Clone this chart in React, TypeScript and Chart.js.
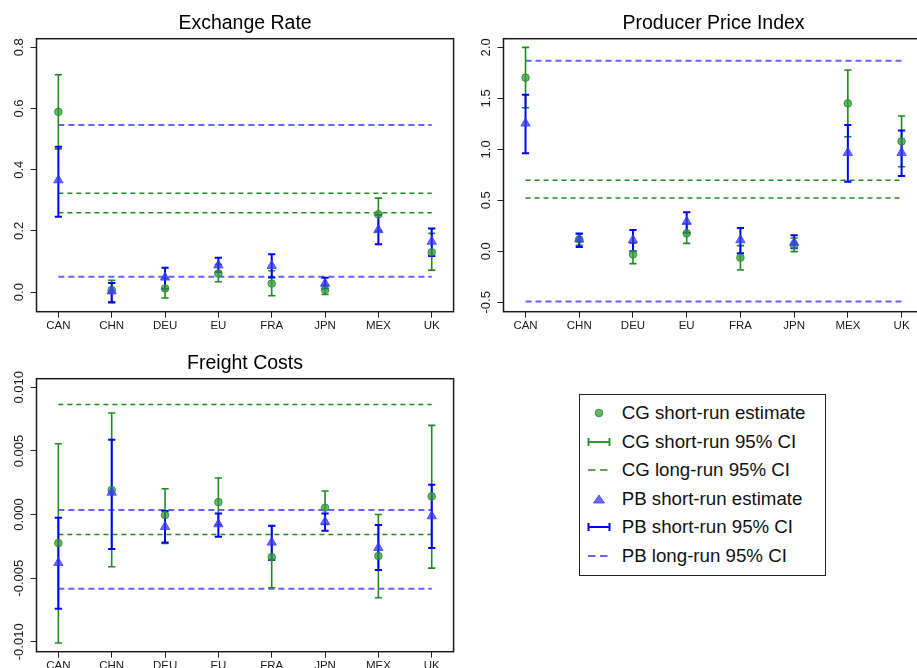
import React, { useEffect, useRef } from "react";
import { Chart, registerables } from "chart.js";

Chart.register(...registerables);

const FONT = '"Liberation Sans", Arial, Helvetica, sans-serif';

// ---------- data ----------
const countries = ["CAN", "CHN", "DEU", "EU", "FRA", "JPN", "MEX", "UK"];

// Exchange Rate
const erCgEst = [0.589, 0.007, 0.012, 0.061, 0.028, 0.007, 0.254, 0.13];
const erCgLo = [0.468, -0.032, -0.019, 0.034, -0.012, -0.008, 0.2, 0.072];
const erCgHi = [0.71, 0.039, 0.045, 0.09, 0.07, 0.022, 0.307, 0.192];
const erPbEst = [0.366, 0.003, 0.048, 0.088, 0.086, 0.028, 0.203, 0.165];
const erPbLo = [0.246, -0.034, 0.011, 0.066, 0.048, 0.012, 0.156, 0.118];
const erPbHi = [0.475, 0.03, 0.08, 0.112, 0.124, 0.047, 0.252, 0.208];
const erCgLong = [0.259, 0.323];
const erPbLong = [0.05, 0.546];
const erTicks = [0, 0.2, 0.4, 0.6, 0.8];

// Producer Price Index
const ppiCgEst = [1.703, 0.118, -0.03, 0.176, -0.062, 0.062, 1.451, 1.078];
const ppiCgLo = [1.408, 0.06, -0.121, 0.078, -0.183, -0.003, 1.124, 0.83];
const ppiCgHi = [2.0, 0.17, 0.08, 0.27, 0.056, 0.13, 1.778, 1.327];
const ppiPbEst = [1.255, 0.118, 0.111, 0.291, 0.111, 0.085, 0.967, 0.967];
const ppiPbLo = [0.961, 0.042, 0.0, 0.183, -0.02, 0.029, 0.683, 0.739];
const ppiPbHi = [1.536, 0.176, 0.209, 0.382, 0.229, 0.157, 1.239, 1.186];
const ppiCgLong = [0.523, 0.696];
const ppiPbLong = [-0.493, 1.869];
const ppiTicks = [-0.5, 0, 0.5, 1.0, 1.5, 2.0];

// Freight Costs
const frCgEst = [-0.00224, 0.00193, -0.00004, 0.00098, -0.00334, 0.00054, -0.00326, 0.00143];
const frCgLo = [-0.0101, -0.0041, -0.00227, -0.0008, -0.00575, -0.00077, -0.00654, -0.00421];
const frCgHi = [0.00557, 0.00798, 0.00203, 0.00287, -0.0009, 0.00185, 0.0, 0.00701];
const frPbEst = [-0.00379, 0.00174, -0.00096, -0.00075, -0.00219, -0.00056, -0.00261, -0.00012];
const frPbLo = [-0.0074, -0.00271, -0.00219, -0.00174, -0.00358, -0.00127, -0.00436, -0.00263];
const frPbHi = [-0.00025, 0.00588, 0.00028, 0.00009, -0.00088, 0.00009, -0.00083, 0.00235];
const frCgLong = [-0.00156, 0.00866];
const frPbLong = [-0.00583, 0.00035];
const frTicks = [-0.01, -0.005, 0, 0.005, 0.01];

const legendLabels = [
  "CG short-run estimate",
  "CG short-run 95% CI",
  "CG long-run 95% CI",
  "PB short-run estimate",
  "PB short-run 95% CI",
  "PB long-run 95% CI",
];

// ---------- styles ----------
const GREEN_PT = "rgba(52,158,52,0.75)";
const GREEN_PT_BORDER = "rgba(40,140,40,0.85)";
const GREEN_LINE = "#1f8a1f";
const BLUE_PT = "rgba(55,55,255,0.75)";
const BLUE_LINE = "#0000ff";
const BLUE_DASH = "rgba(60,60,255,0.8)";

const TICK_LEN = 6;
const Y_TICK_SIZE = 13;
const X_TICK_SIZE = 11.5;
const LABEL_DIST = 17;
const X_MIN = 0.59;
const X_MAX = 8.41;

function estPoints(v: number[]) {
  return v.map((y, i) => ({ x: i + 1, y }));
}
function ciPoints(lo: number[], hi: number[]) {
  const pts: any[] = [];
  lo.forEach((l, i) => {
    pts.push({ x: i + 1, y: l }, { x: i + 1, y: hi[i] }, { x: i + 1, y: null });
  });
  return pts;
}
function longPoints(levels: number[]) {
  const pts: any[] = [];
  levels.forEach((v, k) => {
    if (k) pts.push({ x: countries.length, y: null });
    pts.push({ x: 1, y: v }, { x: countries.length, y: v });
  });
  return pts;
}
function widest(labels: string[], size: number) {
  const c = document.createElement("canvas").getContext("2d")!;
  c.font = `${size}px ${FONT}`;
  return Math.max(...labels.map((l) => c.measureText(l).width));
}

const boxPlugin = {
  id: "plotBox",
  afterDraw(chart: any) {
    const { ctx, chartArea: a } = chart;
    ctx.save();
    ctx.strokeStyle = "#1a1a1a";
    ctx.lineWidth = 1.5;
    ctx.strokeRect(a.left, a.top, a.right - a.left, a.bottom - a.top);
    ctx.restore();
  },
};

type PanelCfg = {
  title: string;
  cgEst: number[];
  cgLo: number[];
  cgHi: number[];
  pbEst: number[];
  pbLo: number[];
  pbHi: number[];
  cgLong: number[];
  pbLong: number[];
  yTicks: number[];
  decimals: number;
  yMin: number;
  yMax: number;
  yAxisW: number;
  padRight: number;
};

function Panel({ cfg, left, top, width, height }: { cfg: PanelCfg; left: number; top: number; width: number; height: number }) {
  const ref = useRef<HTMLCanvasElement>(null);
  useEffect(() => {
    const yLabels = cfg.yTicks.map((v) => v.toFixed(cfg.decimals));
    const yPad = LABEL_DIST - TICK_LEN - widest(yLabels, Y_TICK_SIZE) / 2;
    const chartBottom = 311.7;
    const chart = new Chart(ref.current!, {
      type: "scatter",
      data: {
        datasets: [
          {
            label: "PB short-run estimate",
            data: estPoints(cfg.pbEst),
            pointStyle: "triangle",
            pointRadius: 5.4,
            backgroundColor: BLUE_PT,
            borderColor: BLUE_PT,
            borderWidth: 1,
            order: 0,
          },
          {
            label: "CG short-run estimate",
            data: estPoints(cfg.cgEst),
            pointStyle: "circle",
            pointRadius: 3.8,
            backgroundColor: GREEN_PT,
            borderColor: GREEN_PT_BORDER,
            borderWidth: 1,
            order: 1,
          },
          {
            label: "PB short-run 95% CI",
            data: ciPoints(cfg.pbLo, cfg.pbHi),
            showLine: true,
            spanGaps: false,
            borderColor: BLUE_LINE,
            borderWidth: 2,
            pointStyle: "line",
            pointRadius: 3.6,
            pointBorderWidth: 2,
            pointBorderColor: BLUE_LINE,
            pointBackgroundColor: BLUE_LINE,
            order: 2,
          },
          {
            label: "CG short-run 95% CI",
            data: ciPoints(cfg.cgLo, cfg.cgHi),
            showLine: true,
            spanGaps: false,
            borderColor: GREEN_LINE,
            borderWidth: 1.6,
            pointStyle: "line",
            pointRadius: 3.6,
            pointBorderWidth: 1.6,
            pointBorderColor: GREEN_LINE,
            pointBackgroundColor: GREEN_LINE,
            order: 3,
          },
          {
            label: "PB long-run 95% CI",
            data: longPoints(cfg.pbLong),
            showLine: true,
            spanGaps: false,
            borderColor: BLUE_DASH,
            borderWidth: 2,
            borderDash: [6, 4],
            pointRadius: 0,
            order: 4,
          },
          {
            label: "CG long-run 95% CI",
            data: longPoints(cfg.cgLong),
            showLine: true,
            spanGaps: false,
            borderColor: GREEN_LINE,
            borderWidth: 1.5,
            borderDash: [5, 4],
            pointRadius: 0,
            order: 5,
          },
        ] as any,
      },
      options: {
        responsive: false,
        animation: false,
        events: [],
        layout: { padding: { left: 0, right: cfg.padRight, top: 0, bottom: 0 } },
        plugins: {
          legend: { display: false },
          tooltip: { enabled: false },
          title: {
            display: true,
            text: cfg.title,
            fullSize: false,
            color: "#000",
            font: { size: 19.5, weight: "normal", family: FONT, lineHeight: 1.2 },
            padding: { top: 12.2, bottom: 3.1 },
          },
        },
        scales: {
          x: {
            type: "linear",
            min: X_MIN,
            max: X_MAX,
            afterBuildTicks: (s: any) => {
              s.ticks = countries.map((_, i) => ({ value: i + 1 }));
            },
            afterFit: (s: any) => {
              s.height = height - chartBottom;
            },
            border: { display: false },
            grid: { drawOnChartArea: false, drawTicks: true, tickLength: TICK_LEN, color: "#222", lineWidth: 1 },
            ticks: {
              autoSkip: false,
              maxRotation: 0,
              minRotation: 0,
              padding: 1.5,
              color: "#1a1a1a",
              font: { size: X_TICK_SIZE, family: FONT },
              callback: (v: any) => countries[Math.round(Number(v)) - 1] ?? "",
            },
          },
          y: {
            type: "linear",
            min: cfg.yMin,
            max: cfg.yMax,
            afterBuildTicks: (s: any) => {
              s.ticks = cfg.yTicks.map((value) => ({ value }));
            },
            afterFit: (s: any) => {
              s.width = cfg.yAxisW;
            },
            border: { display: false },
            grid: { drawOnChartArea: false, drawTicks: true, tickLength: TICK_LEN, color: "#222", lineWidth: 1 },
            ticks: {
              autoSkip: false,
              minRotation: 90,
              maxRotation: 90,
              crossAlign: "center",
              padding: yPad,
              color: "#1a1a1a",
              font: { size: Y_TICK_SIZE, family: FONT },
              callback: (v: any) => Number(v).toFixed(cfg.decimals),
            },
          },
        },
      } as any,
      plugins: [boxPlugin],
    });
    return () => chart.destroy();
  }, []);
  return (
    <canvas
      ref={ref}
      width={width}
      height={height}
      style={{ position: "absolute", left, top, width, height, display: "block" }}
    />
  );
}

const erCfg: PanelCfg = {
  title: "Exchange Rate",
  cgEst: erCgEst, cgLo: erCgLo, cgHi: erCgHi,
  pbEst: erPbEst, pbLo: erPbLo, pbHi: erPbHi,
  cgLong: erCgLong, pbLong: erPbLong,
  yTicks: erTicks, decimals: 1, yMin: -0.064, yMax: 0.828,
  yAxisW: 36.5, padRight: 2.5,
};
const ppiCfg: PanelCfg = {
  title: "Producer Price Index",
  cgEst: ppiCgEst, cgLo: ppiCgLo, cgHi: ppiCgHi,
  pbEst: ppiPbEst, pbLo: ppiPbLo, pbHi: ppiPbHi,
  cgLong: ppiCgLong, pbLong: ppiPbLong,
  yTicks: ppiTicks, decimals: 1, yMin: -0.592, yMax: 2.085,
  yAxisW: 43.5, padRight: 4.4,
};
const frCfg: PanelCfg = {
  title: "Freight Costs",
  cgEst: frCgEst, cgLo: frCgLo, cgHi: frCgHi,
  pbEst: frPbEst, pbLo: frPbLo, pbHi: frPbHi,
  cgLong: frCgLong, pbLong: frPbLong,
  yTicks: frTicks, decimals: 3, yMin: -0.01078, yMax: 0.01068,
  yAxisW: 36.5, padRight: 2.5,
};

function LegendSymbol({ idx }: { idx: number }) {
  const green = idx < 3;
  const line = green ? GREEN_LINE : BLUE_LINE;
  const kind = idx % 3;
  return (
    <svg width={24} height={14} style={{ position: "absolute", left: 7, top: 7 }}>
      {kind === 0 && green && <circle cx={12} cy={7} r={3.8} fill={GREEN_PT} stroke={GREEN_PT_BORDER} strokeWidth={1} />}
      {kind === 0 && !green && <polygon points="6.5,11 17.5,11 12,3" fill={BLUE_PT} stroke={BLUE_PT} strokeWidth={1} />}
      {kind === 1 && (
        <g stroke={line} strokeWidth={green ? 1.8 : 2}>
          <line x1={1} y1={7} x2={23} y2={7} />
          <line x1={1.5} y1={3} x2={1.5} y2={11} />
          <line x1={22.5} y1={3} x2={22.5} y2={11} />
        </g>
      )}
      {kind === 2 && (
        <g stroke={green ? GREEN_LINE : BLUE_DASH} strokeWidth={green ? 1.5 : 2}>
          <line x1={1} y1={7} x2={8.5} y2={7} />
          <line x1={13} y1={7} x2={20.5} y2={7} />
        </g>
      )}
    </svg>
  );
}

function Legend() {
  return (
    <div
      style={{
        position: "absolute",
        left: 579,
        top: 394,
        width: 247,
        height: 182,
        boxSizing: "border-box",
        border: "1px solid #222",
        background: "#fff",
      }}
    >
      {legendLabels.map((label, i) => (
        <div key={label} style={{ position: "absolute", left: 0, top: 19.3 + 28.5 * i - 15, height: 28, width: 240 }}>
          <LegendSymbol idx={i} />
          <span
            style={{
              position: "absolute",
              left: 41.7,
              top: 0,
              lineHeight: "28px",
              fontSize: 18.7,
              fontFamily: FONT,
              color: "#111",
              whiteSpace: "nowrap",
            }}
          >
            {label}
          </span>
        </div>
      ))}
    </div>
  );
}

export default function App() {
  return (
    <div
      style={{
        position: "fixed",
        left: 0,
        top: 0,
        width: 917,
        height: 668,
        overflow: "hidden",
        background: "#fff",
      }}
    >
      <Panel cfg={erCfg} left={0} top={0} width={460} height={340} />
      <Panel cfg={ppiCfg} left={460} top={0} width={470} height={340} />
      <Panel cfg={frCfg} left={0} top={340} width={460} height={340} />
      <Legend />
    </div>
  );
}
